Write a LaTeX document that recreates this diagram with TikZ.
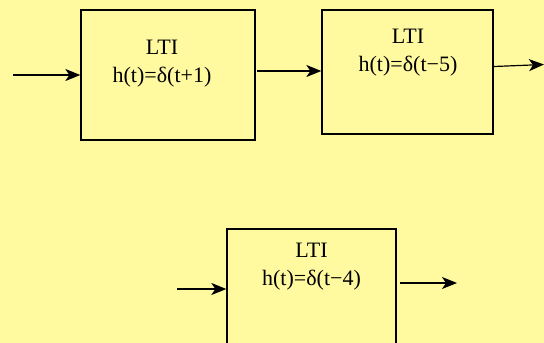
\documentclass[tikz,border=0pt]{standalone}
\usepackage{fontspec}
\setmainfont{Liberation Serif}
\usetikzlibrary{arrows.meta}
\definecolor{bgyellow}{RGB}{255,250,160}
\begin{document}
\begin{tikzpicture}[x=1pt,y=-1pt,
  ltibox/.style={draw=black, line width=1.3pt, fill=bgyellow, rectangle, inner sep=0pt},
  boxtext/.style={font=\fontsize{22}{28}\selectfont, align=center, inner sep=0pt},
  sig/.style={draw=black, line width=1.2pt, -{Stealth[length=15pt,width=12pt,inset=4pt]}}]
\fill[bgyellow] (0,0) rectangle (544,343);
\useasboundingbox (0,0) rectangle (544,343);
% boxes
\node[ltibox, minimum width=174pt, minimum height=130pt] (b1) at (168,75) {};
\node[ltibox, minimum width=171pt, minimum height=124pt] (b2) at (407.5,72) {};
\node[ltibox, minimum width=169pt, minimum height=122pt] (b3) at (311.5,290) {};
% texts
\node[boxtext] (t1) at (162,64) {LTI\\h(t)=δ(t+1)};
\node[boxtext] (t2) at (408,53) {LTI\\h(t)=δ(t−5)};
\node[boxtext] (t3) at (311.5,267) {LTI\\h(t)=δ(t−4)};
% connectors
\coordinate (in1) at (13,75);
\coordinate (o1) at (257,71);
\coordinate (o2s) at (494,66.5);
\coordinate (o2e) at (544,64.5);
\coordinate (in3) at (177,289);
\coordinate (o3s) at (400,283);
\coordinate (o3e) at (457,283);
\draw[sig] (in1) -- (b1.west);
\draw[sig] (o1) -- (o1 -| b2.west);
\draw[sig] (o2s) -- (o2e);
\draw[sig] (in3) -- (in3 -| b3.west);
\draw[sig] (o3s) -- (o3e);
\end{tikzpicture}
\end{document}
